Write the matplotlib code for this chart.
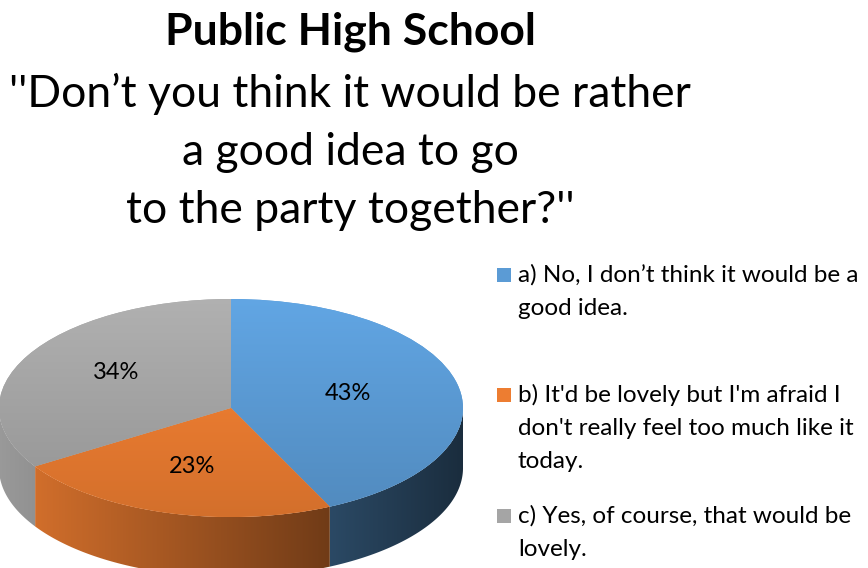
import numpy as np
import matplotlib
matplotlib.use("Agg")
import matplotlib.pyplot as plt
from matplotlib.patches import Polygon, Rectangle
from matplotlib.colors import to_rgb

# ---- data ----
categories = ["a) No, I don\u2019t think it would be a\ngood idea.",
              "b) It'd be lovely but I'm afraid I\ndon't really feel too much like it\ntoday.",
              "c) Yes, of course, that would be\nlovely."]
values = [43, 23, 34]
colors = ["#5B9BD5", "#ED7D31", "#A5A5A5"]
title_bold = "Public High School"
title_rest = ["''Don\u2019t you think it would be rather", "a good idea to go", "to the party together?''"]

FONT = "Lato"
plt.rcParams["font.family"] = [FONT, "DejaVu Sans"]

W, H = 868, 568
fig = plt.figure(figsize=(W / 100, H / 100), dpi=100)
ax = fig.add_axes([0, 0, 1, 1])
ax.axis("off")

# pie geometry in pixels
cx, cy, A, B = 231, 408, 232, 109
depth = 60 / B

wedges, texts, autotexts = ax.pie(values, colors=colors, startangle=90, counterclock=False,
                                  autopct="%1.0f%%", pctdistance=0.6,
                                  textprops=dict(fontsize=17, color="black"),
                                  wedgeprops=dict(linewidth=0))
ax.set_aspect("auto")

# side walls (front half), shading varies horizontally
total = sum(values)
cum = np.cumsum([0] + values) / total
xs = np.linspace(-1, 1, 300)
for i, v in enumerate(values):
    t_hi = 90 - 360 * cum[i]
    t_lo = 90 - 360 * cum[i + 1]
    lo = max(t_lo, -180)
    hi = min(t_hi, 0)
    if hi <= lo:
        continue
    t = np.radians(np.linspace(lo, hi, 200))
    top = np.column_stack([np.cos(t), np.sin(t)])
    bot = np.column_stack([np.cos(t[::-1]), np.sin(t[::-1]) - depth])
    poly = Polygon(np.vstack([top, bot]), closed=True, facecolor="none", edgecolor="none")
    ax.add_patch(poly)
    base = np.array(to_rgb(colors[i]))
    f = 0.93 - 0.32 * (xs + 1)
    img = np.clip(base[None, :] * f[:, None], 0, 1)[None, :, :]
    im = ax.imshow(img, extent=[-1, 1, -1 - depth, 0.2], aspect="auto", zorder=0.5,
                   interpolation="bilinear")
    im.set_clip_path(poly)

# top surface: vertical gradient
ys = np.linspace(1, -1, 200)
for i, w in enumerate(wedges):
    w.set_zorder(1)
    base = np.array(to_rgb(colors[i]))
    f = 1.07 - 0.09 * (1 - ys)
    img = np.clip(base[None, :] * f[:, None], 0, 1)[:, None, :]
    im = ax.imshow(img, extent=[-1, 1, -1, 1], aspect="auto", zorder=1.1,
                   interpolation="bilinear")
    im.set_clip_path(w)

# label nudges (Excel's perspective places them slightly differently)
nudges = [(-0.08, 0.0), (0.0, 0.04), (0.03, 0.04)]
for t, (dx, dy) in zip(autotexts, nudges):
    t.set_zorder(3)
    x0, y0 = t.get_position()
    t.set_position((x0 + dx, y0 + dy))

ax.set_xlim(-cx / A, (W - cx) / A)
ax.set_ylim(-(H - cy) / B, cy / B)


def fx(x):
    return x / W


def fy(y):
    return 1 - y / H


# title
fig.text(fx(350), fy(45), title_bold, ha="center", va="baseline", fontsize=32,
         fontweight="bold")
for k, line in enumerate(title_rest):
    fig.text(fx(350), fy(107 + 58 * k), line, ha="center", va="baseline", fontsize=32)

# legend
leg_base = [282, 402, 523]
for i, lab in enumerate(categories):
    fig.patches.append(Rectangle((fx(497), fy(leg_base[i])), 14 / W, 14 / H,
                                 transform=fig.transFigure, facecolor=colors[i],
                                 edgecolor="none"))
    for k, line in enumerate(lab.split("\n")):
        fig.text(fx(518), fy(leg_base[i] + 33 * k), line, ha="left", va="baseline",
                 fontsize=17.5)

fig.savefig("out.png", dpi=100)
